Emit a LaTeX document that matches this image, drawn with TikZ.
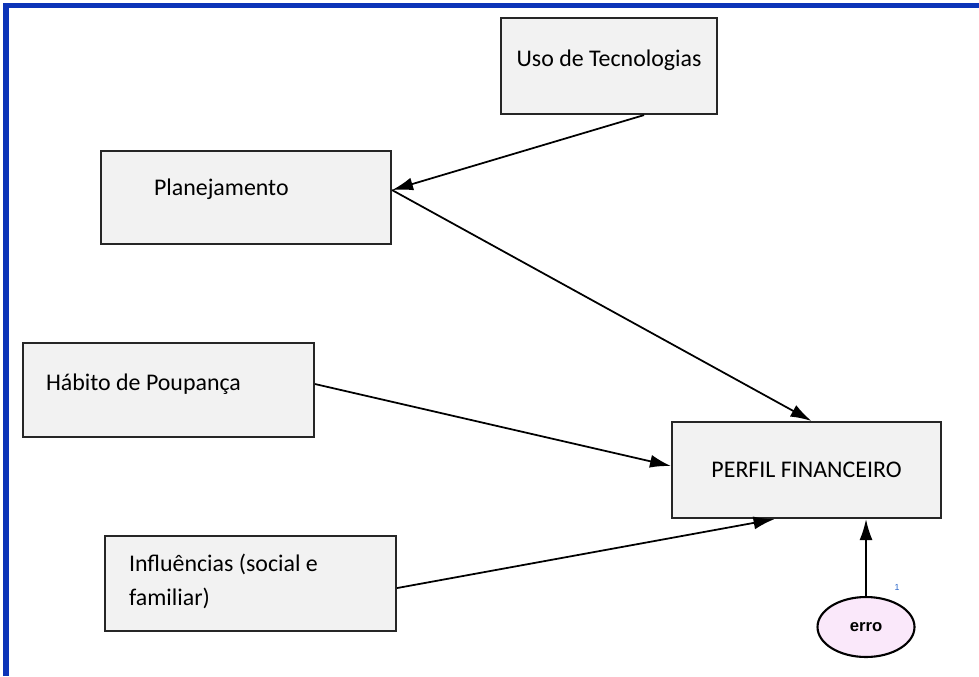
\documentclass[tikz,border=0pt]{standalone}
\usepackage{fontspec}
\setmainfont{Carlito}
\newfontfamily\arialfont{Liberation Sans}
\usetikzlibrary{arrows.meta,shapes.geometric}
\definecolor{moldura}{RGB}{12,52,184}
\definecolor{fundo}{RGB}{242,242,242}
\definecolor{rosa}{RGB}{250,232,250}
\definecolor{azulum}{RGB}{40,100,200}

\begin{document}
\begin{tikzpicture}[x=0.02cm, y=-0.02cm,
  caixa/.style={draw=black!85, line width=1.2pt, fill=fundo, anchor=north west,
    inner ysep=0pt, font=\fontsize{13.6}{19.4}\selectfont},
  seta/.style={draw, line width=1pt, -{Latex[length=0.42cm,width=0.26cm]}}]
\useasboundingbox (0,0) rectangle (979,676);
\draw[moldura, line width=3pt] (6,676) -- (6,5.5) -- (979,5.5);

\node[caixa, minimum width=4.32cm, inner xsep=0pt, text height=0.96cm, text depth=0.96cm] (uso) at (500,17) {Uso de Tecnologias};
\node[caixa, inner xsep=1.06cm, text width=3.68cm, align=flush left, text height=0.88cm, text depth=0.98cm] (plan) at (100,150) {Planejamento};
\node[caixa, inner xsep=0.46cm, text width=4.9cm, align=flush left, text height=0.94cm, text depth=0.94cm] (hab) at (22,342) {Hábito de Poupança};
\node[caixa, minimum width=5.38cm, inner xsep=0pt, text height=1.1cm, text depth=0.82cm] (perfil) at (671,421) {PERFIL FINANCEIRO};
\node[caixa, inner xsep=0.48cm, text width=4.86cm, align=flush left, text height=0.7cm, text depth=1.2cm] (inf) at (104,535) {Influências (social e\\familiar)};

\node[draw, ellipse, line width=1.2pt, fill=rosa, inner sep=0pt, minimum width=1.94cm, minimum height=1.2cm,
  font=\arialfont\bfseries\fontsize{9.5}{10}\selectfont] (erro) at (866,627) {erro};
\node[font=\arialfont\fontsize{5}{6}\selectfont, text=azulum] (um) at (897,587) {1};

\path[seta] ([xshift=0.7cm]uso.south) -- ([yshift=0.15cm]plan.east);
\path[seta] ([yshift=0.15cm]plan.east) -- ([xshift=0.1cm]perfil.north);
\path[seta] ([yshift=0.12cm]hab.east) -- ([yshift=0.08cm]perfil.west);
\path[seta] ([yshift=-0.09cm]inf.east) -- ([xshift=-0.64cm]perfil.south);
\path[seta] (erro.north) -- (erro.north |- perfil.south);
\end{tikzpicture}
\end{document}
